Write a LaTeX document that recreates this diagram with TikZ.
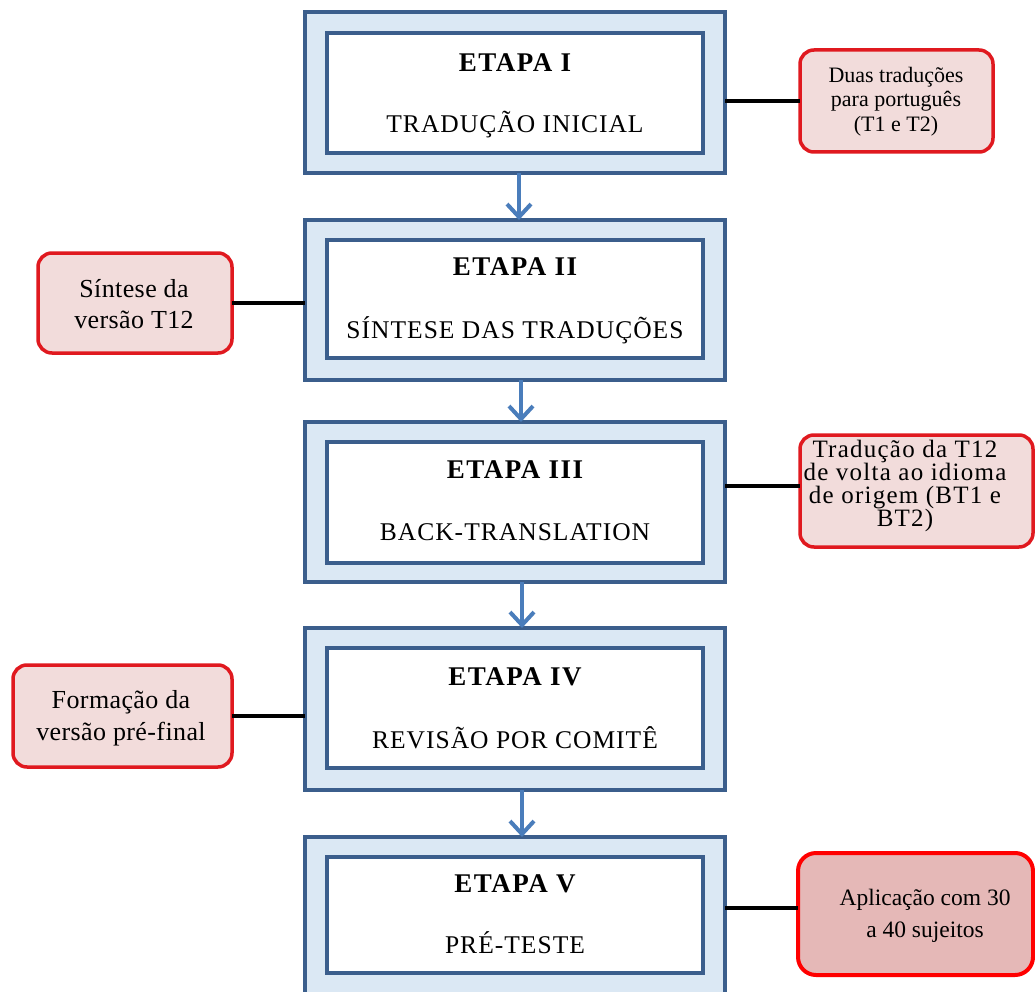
\documentclass[tikz,border=0pt]{standalone}
\usepackage{fontspec}
\setmainfont{Liberation Serif}
\usetikzlibrary{arrows.meta}
\definecolor{boxblue}{HTML}{3B5E8C}
\definecolor{lightblue}{HTML}{DBE8F4}
\definecolor{arrowblue}{HTML}{4A7DBB}
\definecolor{sidefill}{HTML}{F2DCDB}
\definecolor{sidered}{HTML}{E0191F}
\definecolor{sidefilldark}{HTML}{E5B8B7}
\begin{document}
\begin{tikzpicture}[x=1pt,y=-1pt,
 outerbox/.style={draw=boxblue, fill=lightblue, line width=4.5pt, minimum width=420pt, inner sep=0pt, outer sep=0pt},
 innerbox/.style={draw=boxblue, fill=white, line width=4pt, minimum width=376pt, inner sep=0pt, outer sep=0pt},
 title/.style={anchor=base, inner sep=0pt, font=\fontsize{27}{32}\selectfont\bfseries\addfontfeatures{LetterSpace=5.5}},
 subtitle/.style={anchor=base, inner sep=0pt, font=\fontsize{25.5}{30}\selectfont\addfontfeatures{LetterSpace=4}},
 sidebox/.style={draw=sidered, fill=sidefill, line width=3.5pt, rounded corners=14pt, inner sep=0pt, outer sep=0pt},
 sidetext/.style={anchor=north, align=center, inner sep=0pt},
 flow/.style={draw=arrowblue, line width=4pt, -{Straight Barb[length=13pt,width=24pt]}},
 link/.style={draw=black, line width=4pt}
]
\useasboundingbox (0,0) rectangle (1035,992);
\fill[white] (0,0) rectangle (1035,992);

% stage boxes
\node[outerbox, minimum height=161pt] (o1) at (515,92.5) {};
\node[innerbox, minimum height=120pt] (i1) at (515,93) {};
\node[title] (e1) at (515,72) {ETAPA I};
\node[subtitle] (n1) at (515,133) {TRADUÇÃO INICIAL};

\node[outerbox, minimum height=160pt] (o2) at (515,300) {};
\node[innerbox, minimum height=118pt] (i2) at (515,299) {};
\node[title] (e2) at (515,275) {ETAPA II};
\node[subtitle] (n2) at (515,338) {SÍNTESE DAS TRADUÇÕES};

\node[outerbox, minimum height=160pt] (o3) at (515,502) {};
\node[innerbox, minimum height=121pt] (i3) at (515,502.5) {};
\node[title] (e3) at (515,478) {ETAPA III};
\node[subtitle] (n3) at (515,540) {BACK-TRANSLATION};

\node[outerbox, minimum height=162pt] (o4) at (515,709) {};
\node[innerbox, minimum height=120pt] (i4) at (515,708) {};
\node[title] (e4) at (515,685) {ETAPA IV};
\node[subtitle] (n4) at (515,748) {REVISÃO POR COMITÊ};

\node[outerbox, minimum height=163pt] (o5) at (515,918.5) {};
\node[innerbox, minimum height=116pt] (i5) at (515,915) {};
\node[title] (e5) at (515,892) {ETAPA V};
\node[subtitle] (n5) at (515,953) {PRÉ-TESTE};

% arrows
\draw[flow] ([xshift=4pt]o1.south) -- ([xshift=4pt]o2.north);
\draw[flow] ([xshift=6pt]o2.south) -- ([xshift=6pt]o3.north);
\draw[flow] ([xshift=7pt]o3.south) -- ([xshift=7pt]o4.north);
\draw[flow] ([xshift=7pt]o4.south) -- ([xshift=7pt]o5.north);

% side boxes
\node[sidebox, minimum width=193pt, minimum height=102pt] (s1) at (896.5,101) {};
\node[sidetext, font=\fontsize{22}{24.5}\selectfont] (t1) at (896,67) {Duas traduções\\para português\\(T1 e T2)};

\node[sidebox, minimum width=194pt, minimum height=100pt] (s2) at (135,303) {};
\node[sidetext, font=\fontsize{26}{31}\selectfont\addfontfeatures{LetterSpace=1.5}] (t2) at (134,279) {Síntese da\\versão T12};

\node[sidebox, minimum width=233pt, minimum height=112pt] (s3) at (916.5,491) {};
\node[sidetext, font=\fontsize{25}{23}\selectfont\addfontfeatures{LetterSpace=5}] (t3) at (905,440) {Tradução da T12\\de volta ao idioma\\de origem (BT1 e\\BT2)};

\node[sidebox, minimum width=219pt, minimum height=102pt] (s4) at (122.5,716) {};
\node[sidetext, font=\fontsize{26}{32}\selectfont\addfontfeatures{LetterSpace=1.5}] (t4) at (121,690) {Formação da\\versão pré-final};

\node[sidebox, draw=red, fill=sidefilldark, line width=4pt, rounded corners=18pt, minimum width=235pt, minimum height=122pt] (s5) at (915.5,914) {};
\node[sidetext, font=\fontsize{23.5}{32}\selectfont] (t5) at (925,889) {Aplicação com 30\\a 40 sujeitos};

% connectors
\coordinate (c3) at ([yshift=5pt]s3.west);
\coordinate (c5) at ([yshift=6pt]s5.west);
\draw[link] (o1.east |- s1.west) -- (s1.west);
\draw[link] (s2.east) -- (o2.west |- s2.east);
\draw[link] (o3.east |- c3) -- (c3);
\draw[link] (s4.east) -- (o4.west |- s4.east);
\draw[link] (o5.east |- c5) -- (c5);
\end{tikzpicture}
\end{document}
